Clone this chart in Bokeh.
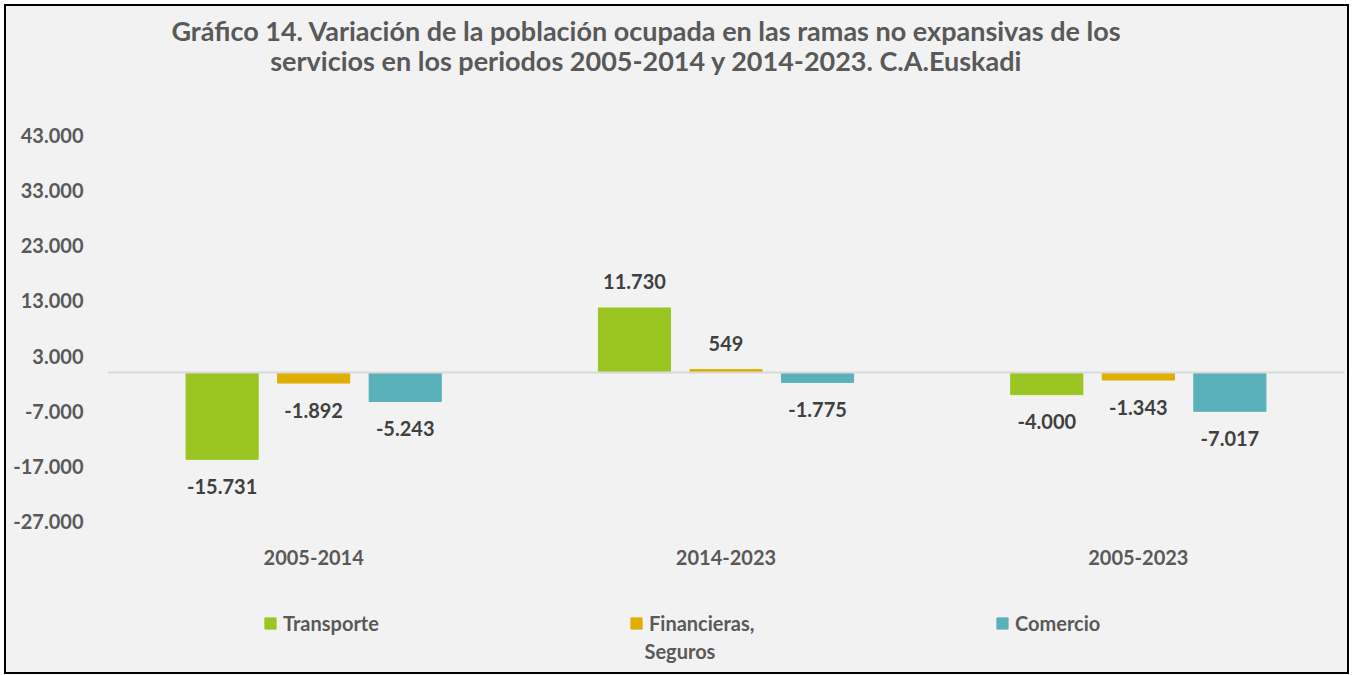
from bokeh.plotting import figure
from bokeh.layouts import column
from bokeh.models import (ColumnDataSource, FactorRange, Range1d, FixedTicker, Span,
                          Legend, LegendItem, Label)
from bokeh.transform import dodge
from bokeh.core.properties import value
from bokeh.embed import file_html
from bokeh.resources import INLINE

periods = ["2005-2014", "2014-2023", "2005-2023"]
series_names = ["Transporte", "Financieras, Seguros", "Comercio"]
transporte = [-15731, 11730, -4000]
financieras = [-1892, 549, -1343]
comercio = [-5243, -1775, -7017]
y_ticks = [-27000, -17000, -7000, 3000, 13000, 23000, 33000, 43000]
title_lines = ["Gráfico 14. Variación de la población ocupada en las ramas no expansivas de los",
               "servicios en los periodos 2005-2014 y 2014-2023. C.A.Euskadi"]
colors = ["#9BC523", "#E0AE00", "#5BB1BA"]

FONT = "Lato"
TXT = "#595959"
LBL = "#404040"
BG = "#f2f2f2"
W = 1341


def fmt(v):
    s = f"{abs(v):,}".replace(",", ".")
    return ("-" if v < 0 else "") + s


def strip(h):
    f = figure(width=W, height=h, output_backend="svg", toolbar_location=None,
               x_range=Range1d(0, 1), y_range=Range1d(0, 1), title=None,
               x_axis_location=None, y_axis_location=None,
               min_border=0, background_fill_color=BG, background_fill_alpha=0,
               border_fill_color=BG)
    f.grid.visible = False
    f.outline_line_color = None
    return f


# ---- title strip (column aligns its frame with the chart frame, 101px from the left edge)
top = strip(114)
for line, y in zip(title_lines, [90, 60]):
    top.add_layout(Label(x=539, y=y, x_units="screen", y_units="screen", text=line,
                         text_align="center", text_baseline="middle", text_font=FONT,
                         text_font_style="bold", text_font_size="27px", text_color=TXT))

# ---- main chart
p = figure(x_range=FactorRange(factors=periods), y_range=Range1d(-27000, 43000),
           width=W, height=456, output_backend="svg", toolbar_location=None, title=None,
           min_border_left=101, min_border_right=3, min_border_top=15, min_border_bottom=55,
           background_fill_color=BG, background_fill_alpha=0, border_fill_color=BG)
p.outline_line_color = None
p.xgrid.visible = False
p.ygrid.visible = False

p.add_layout(Span(location=0, dimension="width", line_color="#d9d9d9", line_width=2))

offsets = [-0.222, 0.0, 0.222]
all_series = [transporte, financieras, comercio]
for vals, off, col in zip(all_series, offsets, colors):
    src = ColumnDataSource(dict(
        x=periods, top=vals,
        lbl=[fmt(v) for v in vals],
        yoff=[27 if v < 0 else -26 for v in vals]))
    p.vbar(x=dodge("x", off, range=p.x_range), top="top", bottom=0, width=0.175,
           source=src, fill_color=col, line_color=col)
    p.text(x=dodge("x", off, range=p.x_range), y="top", text="lbl", y_offset="yoff",
           source=src, text_align="center", text_baseline="middle",
           text_font=value(FONT), text_font_style="bold", text_font_size="20px",
           text_color=LBL)

for ax in (p.xaxis[0], p.yaxis[0]):
    ax.axis_line_color = None
    ax.major_tick_line_color = None
    ax.minor_tick_line_color = None
    ax.major_tick_out = 0
    ax.major_tick_in = 0
    ax.major_label_text_font = FONT
    ax.major_label_text_font_style = "bold"
    ax.major_label_text_font_size = "20px"
    ax.major_label_text_color = TXT

p.xaxis.major_label_standoff = 28
p.yaxis.major_label_standoff = 24
p.yaxis.ticker = FixedTicker(ticks=y_ticks)
p.yaxis.major_label_overrides = {t: fmt(t) for t in y_ticks}

# ---- legend strip
lg = strip(96)
items = []
first_lines = [n.split(" ")[0] if "," in n else n for n in series_names]
for col, name in zip(colors, first_lines):
    r = lg.vbar(x=[-5], top=[-5], bottom=[-6], width=0.1, fill_color=col, line_color=col)
    items.append(LegendItem(label=name, renderers=[r]))
legend = Legend(items=items, orientation="horizontal", location=(156, 37),
                glyph_width=14, glyph_height=14, label_standoff=6, label_width=172,
                spacing=174, padding=0, margin=0, border_line_color=None,
                background_fill_alpha=0, label_text_font=FONT,
                label_text_font_style="bold", label_text_font_size="20px",
                label_text_color=TXT)
lg.add_layout(legend, "center")
second_line = series_names[1].split(" ", 1)[1]
lg.add_layout(Label(x=537, y=22, x_units="screen", y_units="screen", text=second_line,
                    text_baseline="middle", text_align="left", text_font=FONT,
                    text_font_style="bold", text_font_size="20px", text_color=TXT))

layout = column(top, p, lg, spacing=0,
                styles={"border": "2px solid #000000", "margin-left": "4px",
                        "margin-top": "4px", "background-color": BG})
open("out.html", "w").write(file_html(layout, INLINE))
